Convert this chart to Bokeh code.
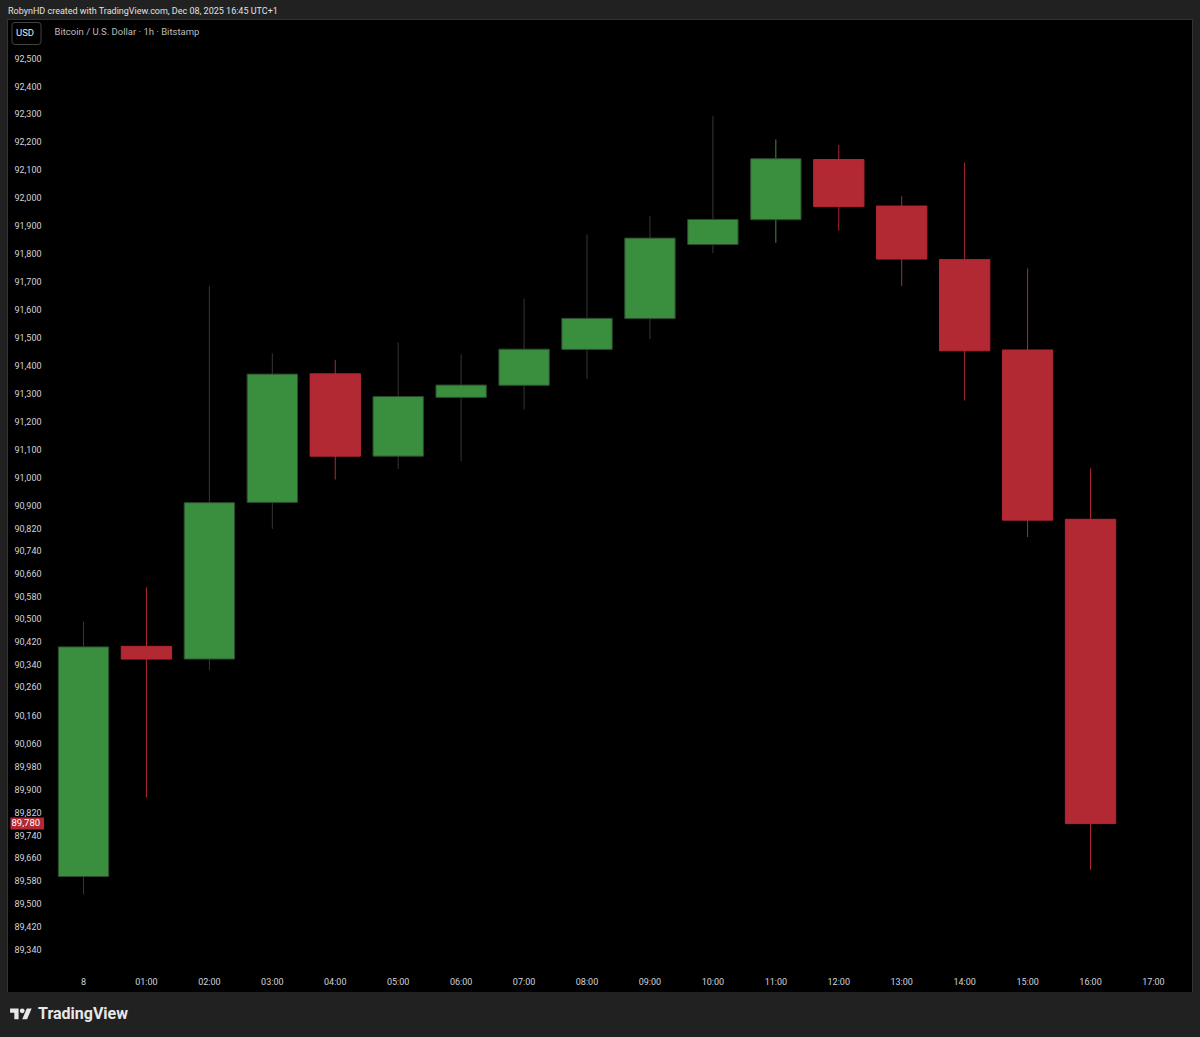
from bokeh.plotting import figure
from bokeh.layouts import column
from bokeh.models import Range1d, FixedTicker, NumeralTickFormatter, Label, Div, ColumnDataSource
from bokeh.embed import file_html
from bokeh.resources import INLINE

# BTC/USD 1h, Bitstamp, Dec 08 2025
times = ["8", "01:00", "02:00", "03:00", "04:00", "05:00", "06:00", "07:00", "08:00",
         "09:00", "10:00", "11:00", "12:00", "13:00", "14:00", "15:00", "16:00"]
x_labels = times + ["17:00"]
opens = [89595, 90403, 90358, 90912, 91369, 91076, 91285, 91328, 91456,
         91566, 91831, 91920, 92136, 91969, 91777, 91454, 90852]
highs = [90490, 90611, 91682, 91442, 91419, 91481, 91438, 91637, 91867,
         91934, 92293, 92208, 92188, 92004, 92125, 91746, 91033]
lows = [89532, 89872, 90318, 90818, 90993, 91030, 91058, 91242, 91351,
        91493, 91800, 91837, 91881, 91682, 91274, 90789, 89619]
closes = [90401, 90358, 90911, 91368, 91076, 91288, 91329, 91457, 91567,
          91854, 91921, 92139, 91967, 91779, 91451, 90849, 89780]
y_ticks = [92500, 92400, 92300, 92200, 92100, 92000, 91900, 91800, 91700, 91600,
           91500, 91400, 91300, 91200, 91100, 91000, 90900, 90820, 90740, 90660,
           90580, 90500, 90420, 90340, 90260, 90160, 90060, 89980, 89900, 89820,
           89740, 89660, 89580, 89500, 89420, 89340]
last_price = 89780

GREEN = "#3a8f3e"
RED = "#b22833"
WICK_GRAY = "#363636"
BG = "#212121"
TXT = "#d1d4dc"
FONT = "Roboto"

idx = list(range(len(times)))
up = [c >= o for o, c in zip(opens, closes)]
wick_col = [WICK_GRAY if u else RED for u in up]
wick_col[11] = GREEN  # drawn green on the original

src = ColumnDataSource(dict(
    x=idx,
    top=[max(o, c) for o, c in zip(opens, closes)],
    bottom=[min(o, c) for o, c in zip(opens, closes)],
    high=highs, low=lows,
    fill=[GREEN if u else RED for u in up],
    line=["#2d4a2f" if u else RED for u in up],
    wick=wick_col,
))

p = figure(width=1184, height=972, y_axis_type="log",
           x_range=Range1d(-1.1916, 17.62), y_range=Range1d(89274, 92637),
           toolbar_location=None, tools="", output_backend="svg",
           min_border_left=0, min_border_right=0, min_border_top=0, min_border_bottom=24,
           margin=(0, 8, 0, 8),
           styles={"background-color": "black", "box-shadow": "0 0 0 1px #333333"})
p.background_fill_color = "black"
p.border_fill_color = "black"
p.outline_line_color = None
p.xgrid.grid_line_color = None
p.ygrid.grid_line_color = None

p.segment(x0="x", y0="low", x1="x", y1="high", color="wick", source=src)
p.vbar(x="x", width=0.8, top="top", bottom="bottom", fill_color="fill", line_color="line", source=src)

p.yaxis.ticker = FixedTicker(ticks=y_ticks)
p.yaxis.formatter = NumeralTickFormatter(format="0,0")
p.xaxis.ticker = FixedTicker(ticks=list(range(len(x_labels))))
p.xaxis.major_label_overrides = {i: lab for i, lab in enumerate(x_labels)}
for ax in (p.xaxis, p.yaxis):
    ax.axis_line_color = None
    ax.major_tick_line_color = None
    ax.minor_tick_line_color = None
    ax.major_tick_out = 0
    ax.major_tick_in = 0
    ax.minor_tick_out = 0
    ax.minor_tick_in = 0
    ax.major_label_text_color = TXT
    ax.major_label_text_font = FONT
    ax.major_label_text_font_size = "9px"
# price scale labels sit inside the black chart area
p.yaxis.major_label_standoff = -33
p.xaxis.major_label_standoff = 8

p.add_layout(Label(x=18, y=13, x_units="canvas", y_units="canvas", text="USD",
                   text_align="center", text_baseline="middle", text_color="#e8e8e8",
                   text_font=FONT, text_font_size="9.5px",
                   border_line_color="#434343", border_radius=3, padding=(4, 7, 4, 7)))
p.add_layout(Label(x=46, y=11, x_units="canvas", y_units="canvas",
                   text="Bitcoin / U.S. Dollar · 1h · Bitstamp",
                   text_align="left", text_baseline="middle", text_color="#bdbdbd",
                   text_font=FONT, text_font_size="9.5px"))
# last price tag
p.add_layout(Label(x=2, y=last_price, x_units="canvas", y_units="data",
                   text="{:,}".format(last_price),
                   text_align="left", text_baseline="middle", text_color="white",
                   text_font=FONT, text_font_size="9.5px",
                   background_fill_color=RED, padding=(1, 4, 1, 4)))

header = Div(text="RobynHD created with TradingView.com, Dec 08, 2025 16:45 UTC+1",
             width=1200, height=20, margin=0,
             styles={"background-color": BG, "color": "#e0e0e0", "font-family": FONT,
                     "font-size": "9px", "line-height": "22px", "padding-left": "8px"})

logo = ('<svg width="22" height="17" viewBox="0 0 36 28" style="margin-right:6px">'
        '<path d="M14 22H7V11H0V4h14z" fill="#e8e8e8"/>'
        '<circle cx="20" cy="8" r="4" fill="#e8e8e8"/>'
        '<path d="M28 22h-8l7.5-18h8z" fill="#e8e8e8"/></svg>')
footer = Div(text='<div style="display:flex;align-items:center;height:45px;padding-left:10px">'
                  + logo + '<span style="font-weight:bold;font-size:16px;color:#e8e8e8">TradingView</span></div>',
             width=1200, height=45, margin=0,
             styles={"background-color": BG, "font-family": FONT})

layout = column(header, p, footer, spacing=0, styles={"background-color": BG})
open("out.html", "w").write(file_html(layout, INLINE))
